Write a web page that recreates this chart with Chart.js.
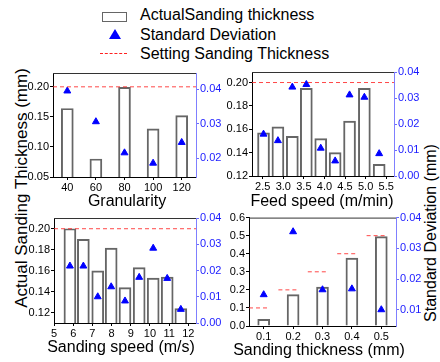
<!DOCTYPE html>
<html>
<head>
<meta charset="utf-8">
<script src="https://cdn.jsdelivr.net/npm/chart.js@4.4.1/dist/chart.umd.min.js"></script>
<style>
  body { margin: 0; background: #fff; }
  #wrap { position: relative; width: 440px; height: 362px; overflow: hidden; font-family: Arial, "Liberation Sans", sans-serif; color: #000; }
  #wrap canvas { position: absolute; }
  .lg { position: absolute; left: 140px; font-size: 16px; line-height: 19px; white-space: nowrap; }
  .ytitle { position: absolute; white-space: nowrap; transform: translate(-50%, -50%) rotate(-90deg); line-height: 1; }
  .xtitle { position: absolute; white-space: nowrap; transform: translate(-50%, -50%); font-size: 16px; line-height: 1; }
</style>
</head>
<body>
<div id="wrap">
  <div style="position:absolute;left:102px;top:12px;width:23px;height:8px;border:1.5px solid #666;"></div>
  <div class="lg" style="top:5px">ActualSanding thickness</div>
  <div style="position:absolute;left:109px;top:29px;width:0;height:0;border-left:6px solid transparent;border-right:6px solid transparent;border-bottom:10px solid #0000ff;"></div>
  <div class="lg" style="top:25px">Standard Deviation</div>
  <div style="position:absolute;left:100px;top:53px;width:27px;border-top:1.5px dashed #ff2020;"></div>
  <div class="lg" style="top:44px">Setting Sanding Thickness</div>

  <div class="ytitle" style="left:21px;top:188px;font-size:17px">Actual Sanding Thickness (mm)</div>
  <div class="ytitle" style="left:431px;top:233px;font-size:16px">Standard Deviation (mm)</div>

  <canvas id="granChart" width="222" height="148" style="left:0;top:62px"></canvas>
  <canvas id="feedChart" width="218" height="148" style="left:222px;top:62px"></canvas>
  <canvas id="speedChart" width="222" height="147" style="left:0;top:210px"></canvas>
  <canvas id="thickChart" width="218" height="150" style="left:222px;top:210px"></canvas>

  <div class="xtitle" style="left:127px;top:201px">Granularity</div>
  <div class="xtitle" style="left:322px;top:201px">Feed speed (m/min)</div>
  <div class="xtitle" style="left:121px;top:347px">Sanding speed (m/s)</div>
  <div class="xtitle" style="left:319px;top:350px">Sanding thickness (mm)</div>
</div>

<script>
// Granularity panel
const granularity = [40, 60, 80, 100, 120];
const granThickness = [0.164, 0.080, 0.199, 0.130, 0.152];
const granStdDev = [0.0395, 0.0306, 0.0216, 0.0186, 0.0246];

// Feed speed panel (bar positions)
const feedSpeed = [2.52, 2.87, 3.22, 3.56, 3.91, 4.26, 4.61, 4.97, 5.33];
const feedThickness = [0.157, 0.162, 0.154, 0.195, 0.152, 0.140, 0.167, 0.195, 0.130];
const feedStdDev = [0.0161, 0.0136, 0.0342, 0.0352, 0.0107, 0.0058, 0.0312, 0.0303, 0.0086];
const feedTicks = [2.5, 3.0, 3.5, 4.0, 4.5, 5.0, 5.5];

// Sanding speed panel
const sandSpeed = [5.83, 6.53, 7.28, 7.98, 8.70, 9.44, 10.17, 10.90, 11.61];
const speedThickness = [0.200, 0.190, 0.160, 0.1815, 0.144, 0.163, 0.153, 0.154, 0.124];
const speedStdDev = [0.0217, 0.0217, 0.0100, 0.0138, 0.0084, 0.0174, 0.0285, 0.0170, 0.0052];
const speedTicks = [5, 6, 7, 8, 9, 10, 11, 12];

// Sanding thickness panel
const setThickness = [0.1, 0.2, 0.3, 0.4, 0.5];
const actualThickness = [0.037, 0.174, 0.215, 0.376, 0.495];
const thickStdDev = [0.0149, 0.0354, 0.0165, 0.0168, 0.0100];

// Setting thickness for the first three panels
const settingThickness = 0.2;

Chart.defaults.font.family = 'Arial, "Liberation Sans", sans-serif';
Chart.defaults.font.size = 11;
Chart.defaults.color = '#000';

// draws the top edge of the plot frame
const topEdge = {
    id: 'topEdge',
    afterDraw(chart) {
        const { ctx, chartArea: a } = chart;
        ctx.save();
        ctx.strokeStyle = '#333';
        ctx.lineWidth = 1;
        ctx.beginPath();
        ctx.moveTo(a.left, a.top + 0.5);
        ctx.lineTo(a.right, a.top + 0.5);
        ctx.stroke();
        ctx.restore();
    }
};

const pts = (xs, ys) => xs.map((x, i) => ({ x: x, y: ys[i] }));
const fixedTicks = vals => axis => { axis.ticks = vals.map(v => ({ value: v })); };

// p.box: [top padding, left axis width, right axis width, bottom axis height]
function makePanel(id, p) {
    const [padTop, leftW, rightW, bottomH] = p.box;
    new Chart(document.getElementById(id), {
        type: 'bar',
        data: {
            datasets: [{
                type: 'line',
                data: p.setting,
                yAxisID: 'y',
                borderColor: 'rgba(255, 40, 40, 0.85)',
                borderWidth: 1,
                borderDash: [4, 3],
                pointRadius: 0,
                spanGaps: false,
                order: 0
            }, {
                type: 'line',
                data: p.std,
                yAxisID: 'y1',
                showLine: false,
                pointStyle: 'triangle',
                pointRadius: 4,
                backgroundColor: '#0000ff',
                borderColor: '#0000ff',
                borderWidth: 1,
                order: 1
            }, {
                data: p.bars,
                yAxisID: 'y',
                backgroundColor: 'rgba(0,0,0,0)',
                borderColor: '#666',
                borderWidth: 1.3,
                barThickness: 12,
                order: 2
            }]
        },
        options: {
            responsive: false,
            animation: false,
            events: [],
            layout: { padding: { top: padTop, left: 0, right: 0, bottom: 0 } },
            plugins: { legend: { display: false }, tooltip: { enabled: false } },
            scales: {
                x: {
                    type: 'linear',
                    min: p.xRange[0],
                    max: p.xRange[1],
                    offset: false,
                    afterBuildTicks: fixedTicks(p.xTicks),
                    afterFit: s => { s.height = bottomH; },
                    ticks: { autoSkip: false, maxRotation: 0, padding: 1, callback: p.xFmt },
                    grid: { offset: false, drawOnChartArea: false, tickLength: 3, color: '#000' },
                    border: { color: '#000', width: 1 }
                },
                y: {
                    position: 'left',
                    min: p.yRange[0],
                    max: p.yRange[1],
                    afterBuildTicks: fixedTicks(p.yTicks),
                    afterFit: s => { s.width = leftW; },
                    ticks: { padding: 1, callback: p.yFmt },
                    grid: { drawOnChartArea: false, tickLength: 3, color: '#000' },
                    border: { color: '#000', width: 1 }
                },
                y1: {
                    position: 'right',
                    min: p.y1Range[0],
                    max: p.y1Range[1],
                    afterBuildTicks: fixedTicks(p.y1Ticks),
                    afterFit: s => { s.width = rightW; },
                    ticks: { padding: 1, color: '#1a1aff', callback: v => v.toFixed(2) },
                    grid: { drawOnChartArea: false, tickLength: 3, color: '#6a6aff' },
                    border: { color: '#7f7fff', width: 1 }
                }
            }
        },
        plugins: [topEdge]
    });
}

const fullLine = (range, v) => [{ x: range[0], y: v }, { x: range[1], y: v }];

const granRange = [30, 130];
makePanel('granChart', {
    box: [11, 53, 26, 33],
    bars: pts(granularity, granThickness),
    std: pts(granularity, granStdDev),
    setting: fullLine(granRange, settingThickness),
    xRange: granRange, xTicks: granularity, xFmt: v => String(v),
    yRange: [0.05, 0.223], yTicks: [0.05, 0.10, 0.15, 0.20], yFmt: v => v.toFixed(2),
    y1Range: [0.0146, 0.0447], y1Ticks: [0.02, 0.03, 0.04]
});

const feedRange = [2.24, 5.69];
makePanel('feedChart', {
    box: [10, 30, 46, 34],
    bars: pts(feedSpeed, feedThickness),
    std: pts(feedSpeed, feedStdDev),
    setting: fullLine(feedRange, settingThickness),
    xRange: feedRange, xTicks: feedTicks, xFmt: v => v.toFixed(1),
    yRange: [0.12, 0.209], yTicks: [0.12, 0.14, 0.16, 0.18, 0.20], yFmt: v => v.toFixed(2),
    y1Range: [0, 0.04], y1Ticks: [0, 0.01, 0.02, 0.03, 0.04]
});

const speedRange = [5, 12.4];
makePanel('speedChart', {
    box: [8, 54, 26, 34],
    bars: pts(sandSpeed, speedThickness),
    std: pts(sandSpeed, speedStdDev),
    setting: fullLine(speedRange, settingThickness),
    xRange: speedRange, xTicks: speedTicks, xFmt: v => String(v),
    yRange: [0.1104, 0.2102], yTicks: [0.12, 0.14, 0.16, 0.18, 0.20], yFmt: v => v.toFixed(2),
    y1Range: [0, 0.04], y1Ticks: [0, 0.01, 0.02, 0.03, 0.04]
});

// short dashed marks at each setting thickness, broken between categories
const settingMarks = setThickness.flatMap(s => [
    { x: s - 0.05, y: s }, { x: s + 0.012, y: s }, { x: s + 0.03, y: null }
]);
makePanel('thickChart', {
    box: [7, 27, 44, 34],
    bars: pts(setThickness, actualThickness),
    std: pts(setThickness, thickStdDev),
    setting: settingMarks,
    xRange: [0.05, 0.55], xTicks: setThickness, xFmt: v => v.toFixed(1),
    yRange: [0, 0.6], yTicks: [0, 0.1, 0.2, 0.3, 0.4, 0.5, 0.6], yFmt: v => v.toFixed(1),
    y1Range: [0.0047, 0.04], y1Ticks: [0.01, 0.02, 0.03, 0.04]
});
</script>
</body>
</html>
